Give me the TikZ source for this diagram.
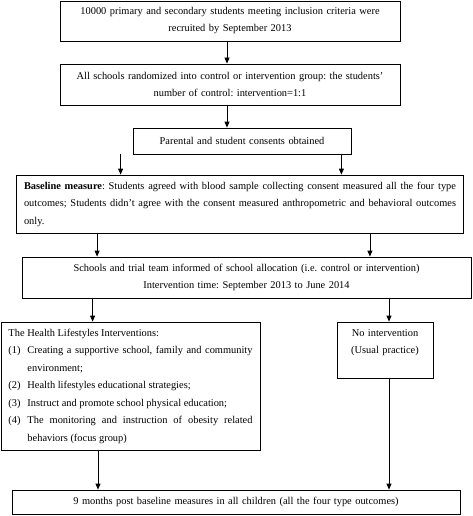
\documentclass[tikz,border=0pt]{standalone}
\usepackage{xcolor}
\usepackage{fontspec}
\setmainfont{Liberation Serif}
\usepackage{tikz}
\usetikzlibrary{arrows.meta, positioning, calc}
\setlength{\parindent}{0pt}
\hyphenpenalty=10000
\exhyphenpenalty=10000
\frenchspacing

\begin{document}
\begin{tikzpicture}[x=1pt, y=-1pt,
    box/.style={draw, line width=0.8pt, inner xsep=0pt, inner ysep=0pt, align=center, font=\fontsize{10.4}{17}\selectfont},
    arr/.style={-{Triangle[length=6pt, width=5pt]}, line width=0.8pt}]
    \useasboundingbox (0,0) rectangle (472,516);
    % Recruitment and randomisation
    \node[box, text width=340pt, minimum height=40pt] (recruit) at (230,21) {10000 primary and secondary students meeting inclusion criteria were\\recruited by September 2013};
    \node[box, text width=340pt, minimum height=41pt] (random) at (230,84.5) {All schools randomized into control or intervention group: the students'\\number of control: intervention=1:1};
    \node[box, text width=218pt, minimum height=26pt] (consent) at (242,141) {Parental and student consents obtained};
    % Baseline
    \node[box, inner xsep=7.5pt, text width=432pt, minimum height=58pt, align=justify, font=\fontsize{10.4}{17.5}\selectfont] (baseline) at (240,204) {\textbf{Baseline measure}: Students agreed with blood sample collecting consent measured all the four type outcomes; Students didn't agree with the consent measured anthropometric and behavioral outcomes only.};
    \node[box, text width=449pt, minimum height=41pt] (inform) at (246.5,277.5) {Schools and trial team informed of school allocation (i.e. control or intervention)\\Intervention time: September 2013 to June 2014};
    % Two arms
    \node[box, inner xsep=7.5pt, text width=244pt, minimum height=128pt, align=justify, font=\fontsize{10.4}{17.5}\selectfont] (interv) at (130.5,386) {The Health Lifestyles Interventions:\par
        \makebox[19pt][l]{(1)}\hangindent=19pt\hangafter=1 Creating a supportive school, family and community environment;\par
        \makebox[19pt][l]{(2)}\hangindent=19pt\hangafter=1 Health lifestyles educational strategies;\par
        \makebox[19pt][l]{(3)}\hangindent=19pt\hangafter=1 Instruct and promote school physical education;\par
        \makebox[19pt][l]{(4)}\hangindent=19pt\hangafter=1 The monitoring and instruction of obesity related behaviors (focus group)\par};
    \node[box, text width=96pt, minimum height=56pt] (nointerv) at (385,350) {No intervention\\(Usual practice)\\\mbox{}};
    % Follow-up
    \node[box, text width=448pt, minimum height=24pt] (followup) at (236,502) {9 months post baseline measures in all children (all the four type outcomes)};
    % Arrows
    \draw[arr] ([xshift=-3pt]recruit.south) -- ([xshift=-3pt]recruit.south |- random.north);
    \draw[arr] ([xshift=-3pt]random.south) -- ([xshift=-3pt]random.south |- consent.north);
    \draw[arr] ([xshift=-12pt]consent.south west) -- ([xshift=-12pt]consent.south west |- baseline.north);
    \draw[arr] ([xshift=-10pt]consent.south east) -- ([xshift=-10pt]consent.south east |- baseline.north);
    \draw[arr] ([xshift=81pt]baseline.south west) -- ([xshift=81pt]baseline.south west |- inform.north);
    \draw[arr] ([xshift=-94pt]baseline.south east) -- ([xshift=-94pt]baseline.south east |- inform.north);
    \draw[arr] (inform.south -| interv.south west) ++(92pt,0) coordinate (a) -- (a |- interv.north);
    \draw[arr] ([xshift=4pt]nointerv.north |- inform.south) -- ([xshift=4pt]nointerv.north);
    \draw[arr] ([xshift=-32.5pt]interv.south) -- ([xshift=-32.5pt]interv.south |- followup.north);
    \draw[arr] ([xshift=4pt]nointerv.south) -- ([xshift=4pt]nointerv.south |- followup.north);
\end{tikzpicture}
\end{document}
